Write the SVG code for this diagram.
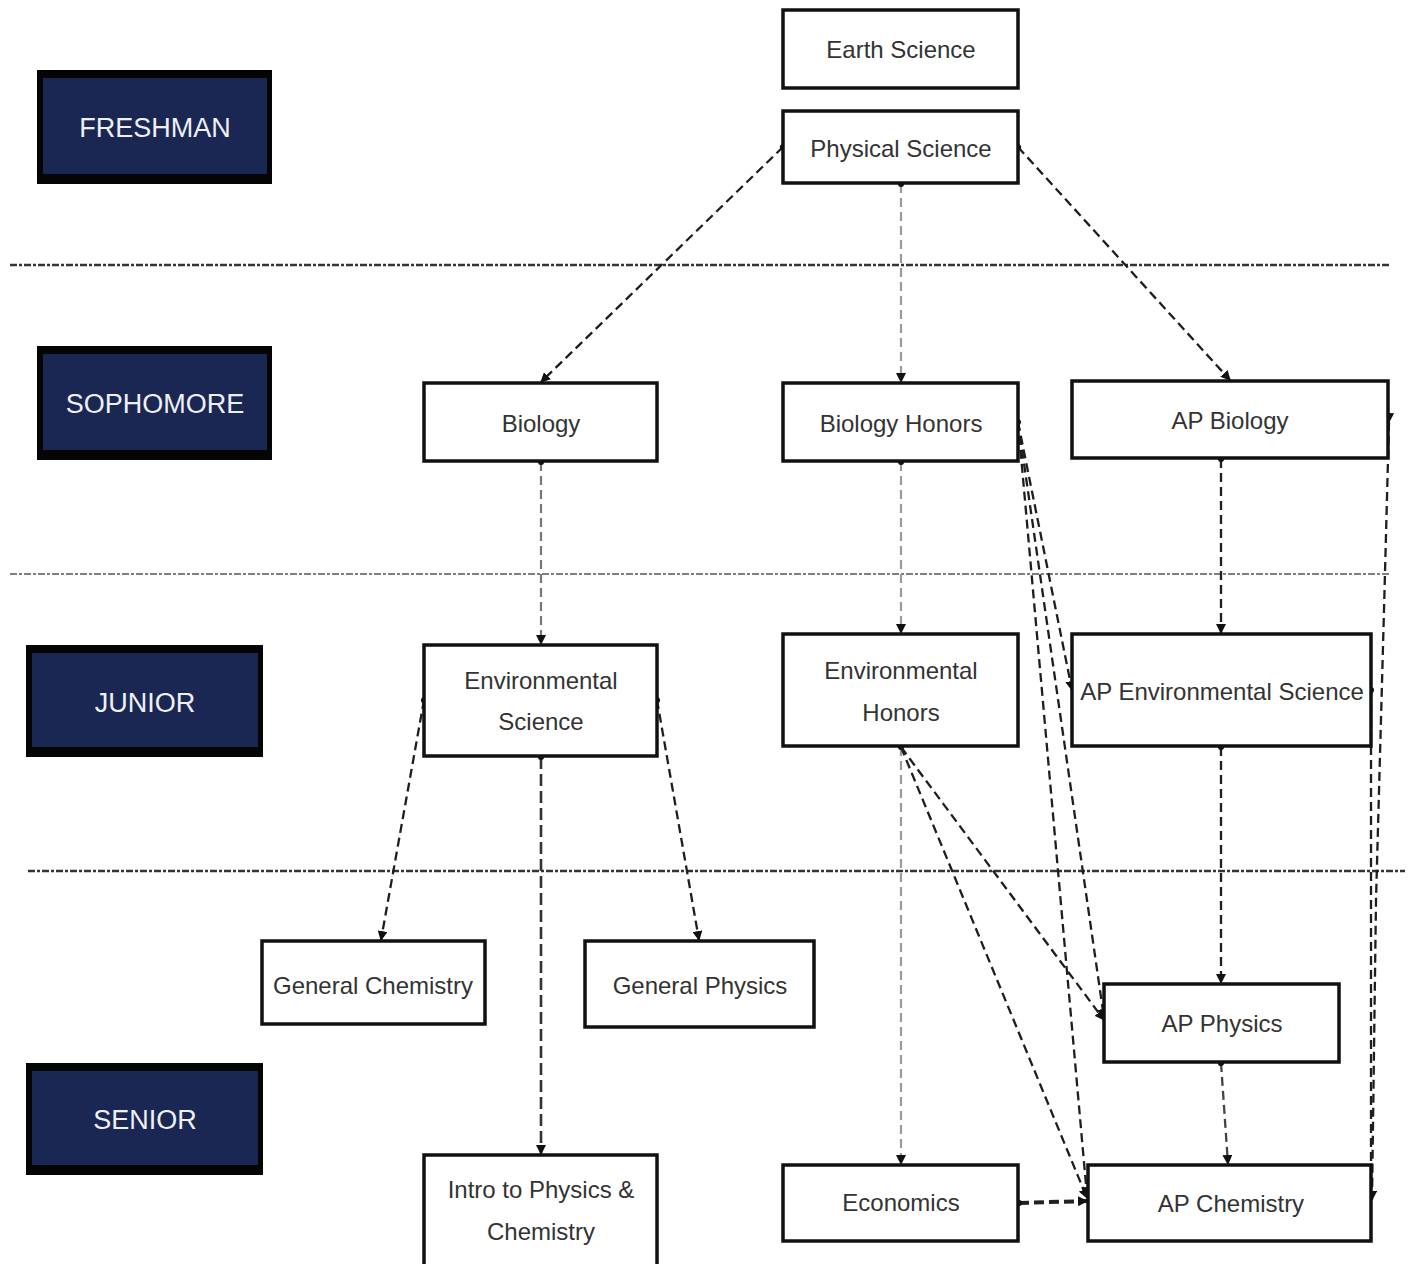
<svg xmlns="http://www.w3.org/2000/svg" width="1411" height="1264" viewBox="0 0 1411 1264">
<defs>
<style>
.lvl-outer{fill:#050505}
.lvl-inner{fill:#1b2753}
.lvl-text{font-family:"Liberation Sans",Arial,sans-serif;font-size:27px;fill:#eef0f6;text-anchor:middle}
.node rect{fill:#ffffff;stroke:#111111;stroke-width:3.5}
.node text{font-family:"Liberation Sans",Arial,sans-serif;font-size:24px;fill:#333333;text-anchor:middle}
.sep{stroke:#333333;stroke-width:2;stroke-dasharray:7 2 3 2;fill:none}
.c{fill:none;stroke:#1e1e1e;stroke-width:2.3;stroke-dasharray:9 5}
.cl{fill:none;stroke:#9a9a9a;stroke-width:2.2;stroke-dasharray:9 5}
.ct{fill:none;stroke:#222222;stroke-width:4;stroke-dasharray:10 5}
</style>
<marker id="ah" viewBox="0 0 10 10" refX="9" refY="5" markerWidth="10" markerHeight="10" markerUnits="userSpaceOnUse" orient="auto">
<path d="M0,0 L10,5 L0,10 z" fill="#111111"/>
</marker>
<marker id="dot" viewBox="0 0 8 8" refX="4" refY="4" markerWidth="7" markerHeight="7" markerUnits="userSpaceOnUse" orient="auto">
<circle cx="4" cy="4" r="3.5" fill="#111111"/>
</marker>
</defs>
<rect width="1411" height="1264" fill="#ffffff"/>

<g id="separators">
<line class="sep" x1="10" y1="265" x2="1390" y2="265" style="stroke-width:2.6"/>
<line class="sep" x1="10" y1="574" x2="1390" y2="574" style="stroke:#555;stroke-width:1.5"/>
<line class="sep" x1="28" y1="871" x2="1405" y2="871" style="stroke-width:2.3"/>
</g>

<g id="levels">
<g id="lvl-freshman"><rect class="lvl-outer" x="37" y="70" width="235" height="114"/><rect class="lvl-inner" x="43" y="78" width="224" height="96"/><text class="lvl-text" x="155" y="137">FRESHMAN</text></g>
<g id="lvl-sophomore"><rect class="lvl-outer" x="37" y="346" width="235" height="114"/><rect class="lvl-inner" x="43" y="354" width="224" height="96"/><text class="lvl-text" x="155" y="413">SOPHOMORE</text></g>
<g id="lvl-junior"><rect class="lvl-outer" x="26" y="645" width="237" height="112"/><rect class="lvl-inner" x="32" y="653" width="226" height="94"/><text class="lvl-text" x="145" y="712">JUNIOR</text></g>
<g id="lvl-senior"><rect class="lvl-outer" x="26" y="1063" width="237" height="112"/><rect class="lvl-inner" x="32" y="1071" width="226" height="94"/><text class="lvl-text" x="145" y="1129">SENIOR</text></g>
</g>

<g id="connectors">
<line class="c" x1="783" y1="147" x2="541" y2="382" marker-start="url(#dot)" marker-end="url(#ah)"/>
<line class="cl" x1="901" y1="184" x2="901" y2="382" marker-start="url(#dot)" marker-end="url(#ah)"/>
<line class="c" x1="1018" y1="147" x2="1230" y2="380" marker-start="url(#dot)" marker-end="url(#ah)"/>
<line class="cl" x1="541" y1="462" x2="541" y2="644" style="stroke:#777" marker-start="url(#dot)" marker-end="url(#ah)"/>
<line class="cl" x1="901" y1="462" x2="901" y2="633" marker-start="url(#dot)" marker-end="url(#ah)"/>
<line class="c" x1="1221" y1="459" x2="1221" y2="633" marker-start="url(#dot)" marker-end="url(#ah)"/>
<line class="c" x1="424" y1="700" x2="381" y2="940" marker-start="url(#dot)" marker-end="url(#ah)"/>
<line class="c" x1="657" y1="700" x2="699" y2="940" marker-start="url(#dot)" marker-end="url(#ah)"/>
<line class="c" x1="541" y1="757" x2="541" y2="1154" style="stroke:#333;stroke-width:2.6;stroke-dasharray:12 5" marker-start="url(#dot)" marker-end="url(#ah)"/>
<line class="cl" x1="901" y1="747" x2="901" y2="1164" marker-start="url(#dot)" marker-end="url(#ah)"/>
<line class="c" x1="901" y1="747" x2="1104" y2="1020" marker-end="url(#ah)"/>
<line class="c" x1="901" y1="747" x2="1087" y2="1198" marker-end="url(#ah)"/>
<line class="c" x1="1018" y1="422" x2="1072" y2="690" marker-start="url(#dot)" marker-end="url(#ah)"/>
<line class="c" x1="1018" y1="422" x2="1104" y2="1018" marker-end="url(#ah)"/>
<line class="c" x1="1018" y1="422" x2="1087" y2="1196" marker-end="url(#ah)"/>
<polyline class="c" points="1389,422 1384,610 1376,900 1372,1200" marker-start="url(#ah)" marker-end="url(#ah)"/>
<line class="c" x1="1371" y1="690" x2="1371" y2="1200" marker-start="url(#dot)"/>
<line class="c" x1="1221" y1="747" x2="1221" y2="983" marker-start="url(#dot)" marker-end="url(#ah)"/>
<line class="c" x1="1221" y1="1063" x2="1228" y2="1164" style="stroke:#444" marker-start="url(#dot)" marker-end="url(#ah)"/>
<line class="ct" x1="1019" y1="1203" x2="1087" y2="1201" marker-start="url(#dot)" marker-end="url(#ah)"/>
</g>

<g id="n-earth" class="node"><rect x="783" y="10" width="235" height="78"/><text x="901" y="58">Earth Science</text></g>
<g id="n-physical" class="node"><rect x="783" y="111" width="235" height="72"/><text x="901" y="157">Physical Science</text></g>
<g id="n-biology" class="node"><rect x="424" y="383" width="233" height="78"/><text x="541" y="432">Biology</text></g>
<g id="n-bio-honors" class="node"><rect x="783" y="383" width="235" height="78"/><text x="901" y="432">Biology Honors</text></g>
<g id="n-ap-bio" class="node"><rect x="1072" y="381" width="316" height="77"/><text x="1230" y="429">AP Biology</text></g>
<g id="n-env-sci" class="node"><rect x="424" y="645" width="233" height="111"/><text x="541" y="689">Environmental</text><text x="541" y="730">Science</text></g>
<g id="n-env-honors" class="node"><rect x="783" y="634" width="235" height="112"/><text x="901" y="679">Environmental</text><text x="901" y="721">Honors</text></g>
<g id="n-ap-env" class="node"><rect x="1072" y="634" width="299" height="112"/><text x="1222" y="700">AP Environmental Science</text></g>
<g id="n-gen-chem" class="node"><rect x="262" y="941" width="223" height="83"/><text x="373" y="994">General Chemistry</text></g>
<g id="n-gen-phys" class="node"><rect x="585" y="941" width="229" height="86"/><text x="700" y="994">General Physics</text></g>
<g id="n-ap-phys" class="node"><rect x="1104" y="984" width="235" height="78"/><text x="1222" y="1032">AP Physics</text></g>
<g id="n-intro" class="node"><rect x="424" y="1155" width="233" height="112"/><text x="541" y="1198">Intro to Physics &amp;</text><text x="541" y="1240">Chemistry</text></g>
<g id="n-econ" class="node"><rect x="783" y="1165" width="235" height="76"/><text x="901" y="1211">Economics</text></g>
<g id="n-ap-chem" class="node"><rect x="1088" y="1165" width="283" height="76"/><text x="1231" y="1212">AP Chemistry</text></g>
</svg>
